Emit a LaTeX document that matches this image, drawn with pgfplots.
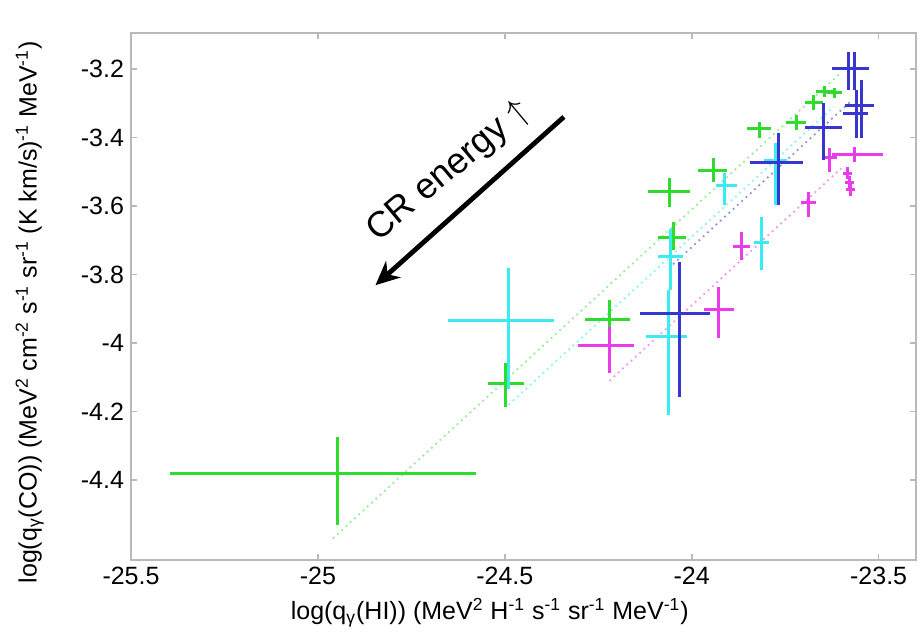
\documentclass[border=0pt]{standalone}
\usepackage{fontspec}
\setmainfont{Liberation Sans}
\usepackage{pgfplots}
\pgfplotsset{compat=1.18}
\usepackage{pgfplotstable}
\usetikzlibrary{arrows.meta}

\definecolor{cgreen}{RGB}{45,220,45}
\definecolor{ccyan}{RGB}{60,235,240}
\definecolor{cblue}{RGB}{55,55,205}
\definecolor{cmag}{RGB}{235,60,235}

% columns: x, y, x error minus/plus, y error minus/plus
\pgfplotstableread{
x       y       xm     xp     ym     yp
-24.948 -4.382  0.447  0.370  0.149  0.108
-24.497 -4.117  0.048  0.048  0.070  0.059
-24.221 -3.930  0.065  0.056  0.061  0.056
-24.050 -3.693  0.040  0.035  0.035  0.046
-24.060 -3.559  0.057  0.056  0.044  0.041
-23.942 -3.495  0.041  0.037  0.035  0.035
-23.819 -3.375  0.032  0.032  0.025  0.020
-23.720 -3.355  0.027  0.027  0.022  0.022
-23.674 -3.299  0.024  0.024  0.022  0.022
-23.645 -3.267  0.023  0.023  0.016  0.016
-23.618 -3.270  0.020  0.020  0.015  0.015
}\greenpts

\pgfplotstableread{
x       y       xm     xp     ym     yp
-24.489 -3.933  0.164  0.120  0.200  0.152
-24.063 -3.982  0.059  0.051  0.228  0.137
-24.058 -3.746  0.032  0.035  0.100  0.080
-23.913 -3.539  0.021  0.035  0.058  0.035
-23.814 -3.705  0.019  0.021  0.082  0.073
-23.776 -3.466  0.030  0.030  0.130  0.050
}\cyanpts

\pgfplotstableread{
x       y       xm     xp     ym     yp
-24.034 -3.915  0.104  0.084  0.243  0.151
-23.768 -3.474  0.075  0.067  0.123  0.087
-23.647 -3.372  0.051  0.048  0.094  0.073
-23.580 -3.200  0.045  0.040  0.061  0.050
-23.565 -3.200  0.045  0.040  0.061  0.050
-23.546 -3.308  0.045  0.033  0.093  0.076
-23.559 -3.331  0.035  0.030  0.070  0.070
}\bluepts

\pgfplotstableread{
x       y       xm     xp     ym     yp
-24.221 -4.006  0.083  0.067  0.082  0.053
-23.929 -3.901  0.038  0.043  0.084  0.065
-23.867 -3.717  0.023  0.023  0.041  0.041
-23.688 -3.591  0.020  0.020  0.041  0.032
-23.564 -3.451  0.062  0.077  0.021  0.023
-23.631 -3.457  0.020  0.020  0.044  0.026
-23.583 -3.504  0.012  0.012  0.018  0.018
-23.578 -3.530  0.012  0.012  0.018  0.018
-23.575 -3.553  0.012  0.012  0.018  0.018
}\magpts

% error crosses only: no marker, no connecting line
\pgfplotsset{
  crossbars/.style={draw=none, mark=none,
    error bars/.cd, x dir=both, y dir=both, x explicit, y explicit,
    error mark=none, error bar style={line width=1.5pt, solid, draw=#1}},
}

\begin{document}
\begin{tikzpicture}
\begin{axis}[
  scale only axis, width=392.5pt, height=263.5pt,
  xmin=-25.5, xmax=-23.4, ymin=-4.633, ymax=-3.095,
  xtick={-25.5,-25,-24.5,-24,-23.5},
  ytick={-4.4,-4.2,-4,-3.8,-3.6,-3.4,-3.2},
  tick align=inside, major tick length=3pt,
  tick style={gray!55, line width=0.8pt},
  axis line style={gray!55, line width=1pt},
  /pgf/number format/assume math mode=true,
  tick label style={font=\fontsize{12.5}{14}\selectfont},
  label style={font=\fontsize{12.5}{14}\selectfont},
  xlabel={log(q\textsubscript{γ}(HI)) (MeV\textsuperscript{2} H\textsuperscript{-1} s\textsuperscript{-1} sr\textsuperscript{-1} MeV\textsuperscript{-1})},
  ylabel={log(q\textsubscript{γ}(CO)) (MeV\textsuperscript{2} cm\textsuperscript{-2} s\textsuperscript{-1} sr\textsuperscript{-1} (K km/s)\textsuperscript{-1} MeV\textsuperscript{-1})},
  x label style={at={(axis description cs:0.457,-0.10)}, anchor=center},
  y label style={at={(axis description cs:-0.129,0.47)}, anchor=center, rotate=0},
  clip=false,
]
\coordinate (bl) at (rel axis cs:0,0);
\coordinate (tr) at (rel axis cs:1,1);

% linear fits, slope one
\addplot[cgreen!50, dotted, line width=0.9pt] coordinates {(-24.96,-4.57) (-23.60,-3.21)};
\addplot[ccyan!60, dotted, line width=0.9pt] coordinates {(-24.49,-4.18) (-23.62,-3.31)};
\addplot[cblue!55, dotted, line width=0.9pt] coordinates {(-24.05,-3.77) (-23.57,-3.29)};
\addplot[cmag!55, dotted, line width=0.9pt] coordinates {(-24.22,-4.11) (-23.60,-3.49)};

\addplot[crossbars=cgreen] table[x=x, y=y, x error minus=xm, x error plus=xp, y error minus=ym, y error plus=yp] {\greenpts};
\addplot[crossbars=ccyan] table[x=x, y=y, x error minus=xm, x error plus=xp, y error minus=ym, y error plus=yp] {\cyanpts};
\addplot[crossbars=cmag] table[x=x, y=y, x error minus=xm, x error plus=xp, y error minus=ym, y error plus=yp] {\magpts};
\addplot[crossbars=cblue] table[x=x, y=y, x error minus=xm, x error plus=xp, y error minus=ym, y error plus=yp] {\bluepts};

\draw[line width=2.4pt, -{Stealth[length=12pt, width=11pt]}]
  (axis cs:-24.342,-3.340) -- (axis cs:-24.846,-3.831);
\node[rotate=40, font=\fontsize{18}{20}\selectfont, inner sep=0pt]
  at (axis cs:-24.650,-3.500) {CR energy $\uparrow$};
\end{axis}
\pgfresetboundingbox
\path[use as bounding box] ([shift={(-65.5pt,-40.5pt)}]bl) rectangle ([shift={(4pt,16.5pt)}]tr);
\end{tikzpicture}
\end{document}
